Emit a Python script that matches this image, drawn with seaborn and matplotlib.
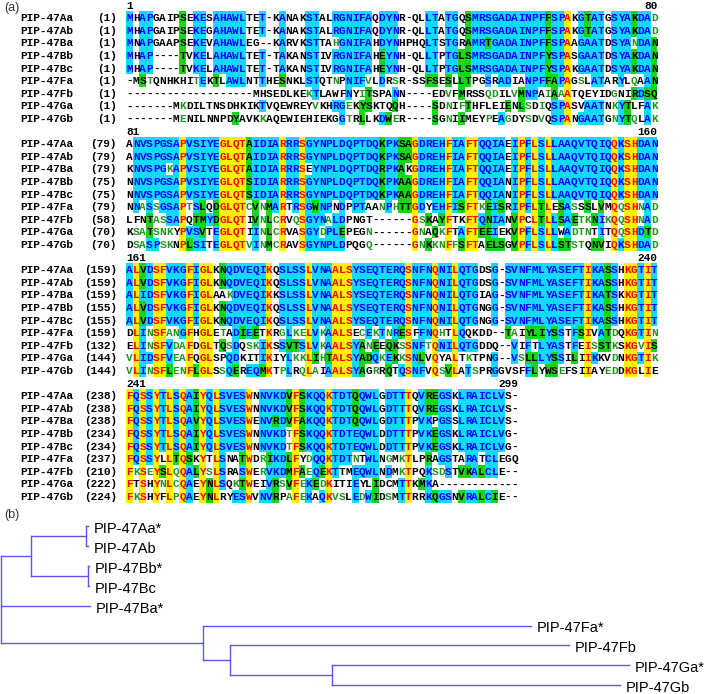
import numpy as np
import matplotlib
matplotlib.use("Agg")
import matplotlib.pyplot as plt
from matplotlib.colors import ListedColormap
from matplotlib import font_manager
import seaborn as sns
from collections import Counter

# ── (a) alignment data ───────────────────────────────────────────────────
seq_names = ["PIP-47Aa", "PIP-47Ab", "PIP-47Ba", "PIP-47Bb", "PIP-47Bc",
             "PIP-47Fa", "PIP-47Fb", "PIP-47Ga", "PIP-47Gb"]

seq_aa = ("MHAPGAIPSEKESAHAWLTET-KANAKSTALRGNIFAQDYNR-QLLTATGQSMRSGADAINPFFSPAKGTATGSYAKDAD"
          "ANVSPGSAPVSIYEGLQTAIDIARRRSGYNPLDQPTDQKPKSAGDREHFIAFTQQIAEIPFLSLLAAQVTQIQQKSHDAN"
          "ALVDSFVKGFIGLKNQDVEQIKQSLSSLVNAALSYSEQTERQSNFNQNILQTGDSG-SVNFMLYASEFTIKASSHKGTIT"
          "FQSSYTLSQAIYQLSVESWNNVKDVFSKQQKTDTQQWLGDTTTQVREGSKLRAICLVS-")
seq_ab = ("MHAPGAIPSEKEGAHAWLTET-KANAKSTALRGNIFAQDYNR-QLLTATGQSMRSGADAINPFFSPAKGTATGSYAKDAD"
          "ANVSPGSAPVSIYEGLQTAIDIARRRSGYNPLDQPTDQKPKSAGDREHFIAFTQQIAEIPFLSLLAAQVTQIQQKSHDAN"
          "ALVDSFVKGFIGLKNQDVEQIKQSLSSLVNAALSYSEQTERQSNFNQNILQTGDSG-SVNFMLYASEFTIKASSHKGTIT"
          "FQSSYTLSQAIYQLSVESWNNVKDVFSKQQKTDTQQWLGDTTTQVREGSKLRAICLVS-")
seq_ba = ("MNAPGAAPSEKEVAHAWLEG--KARVKSTTAHGNIFAHDYNHPHQLTSTGRAMRTGADAINPFFSPAAGAATDSYANDAN"
          "KNVSPGKAPVSIYEGLQTAIDIARRRSEYNPLDQPTDQRPKAKGDREHFIAFTQQIAEIPFLSLLAAQVTQIQQKSHDAN"
          "ALIDSFVKGFIGLAAKDVEQIKKSLSSLVNAALSYSEQTERQSNFNQNILQTGIAG-SVNFMLYASEFTIKATSKKGTIT"
          "FQSSYTLSQAVYQLSVESWENVRDVFAKQQKTDTQQWLGDTTTPVKPGSSLRAICLVS-")
seq_bb = ("MHAP----TVKELAHAWLTET-TAKANSTIVRGNIFAHEYNH-QLLTPTGLSMRSGADAINPFYSPASGAATDSYAKDAN"
          "NNVSPGSAPVSIYEGLQTSIDIARRRSGYNPLDQPTDQKPKAAGDREHFIAFTQQIANIPFLSLLAAQVTQIQQKSHDAN"
          "ALVDSFVKGFIGLKNQDVEQIKQSLSSLVNAALSYSEQTERQSNFNQNILQTGNGG-SVNFMLYASEFTIKASSHKGTIT"
          "FQSSYTLSQAIYQLSVESWNNVKDTFSKQQKTDTEQWLDDTTTPVKEGSKLRAICLVG-")
seq_bc = ("MHAP----TVKELAHAWLTET-TAKANSTIVRGNIFAHEYNH-QLLTPTGLSMRSGADAINPFYSPAKGAATDSYAKDAN"
          "NNVSPGSAPVSIYEGLQTSIDIARRRSGYNPLDQPTDQKPKAAGDREHFIAFTQQIANIPFLSLLAAQVTQIQQKSHDAN"
          "ALVDSFVKGFIGLKNQDVEQIKQSLSSLVNAALSYSEQTERQSNFNQNILQTGNGG-SVNFMLYASEFTIKASSHKGTIT"
          "FQSSYTLSQAIYQLSVESWNNVKDTFSKQQKTDTEQWLDDTTTPVKEGSKLRAICLVG-")
seq_fa = ("-MSTQNHKHITEKTLAWLNTTHESNKLSTQTNPNIFVLDRSR-SSFSESLLTPGSRADIANPFFAPAGSLATARYLQAAN"
          "NNASSGSAPTSLQDGLQTCVNMARTRSGWNPNDPPTAANPHTTGDYEHFISFTKEISRIPFLTLESASSSLVMQQSHNAD"
          "DLINSFANGFHGLETADIEETKRGLKELVKAALSECEKTNRESFFNQHTLQQKDD--TAIYLIYSSTFSIVATDQKGTIN"
          "FQSSYLLTQSKYTLSNATWDRIKDLFYDQQKTDTNTWLNGMKTLPRAGSTARATCLEGQ")
seq_fb = ("-------------------MHSEDLKEKTLAWFNYITSPANN----EDVFMRSSQDILVMNPAIAAATQEYIDGNIRDSQ"
          "LFNTASSAPQTMYDGLQTIVNLCRVQSGYNALDPNGT------GSKAYFTKFTQNIANVPCLTLLSAETKNIKQQSHNAD"
          "ELINSFVDAFDGLTQSDQSKIKSSVTSLVKAALSYANEEQKSSNFTQNILQTGDDQ--VIFTLYASTFEISSTKSKGVIS"
          "FKSEYSLQQALYSLSRASWERVKDMFAEQEKTTMEQWLNDMKTPQKSDSTVKALCLE--")
seq_ga = ("-------MKDILTNSDHKIKTVQEWREYVKHRGEKYSKTQQH----SDNIFTHFLEIENLSDIQSPASVAATNKYTLFAK"
          "KSATSNKYPVSVTEGLQTIINLCRVASGYDPLEPEGN------GNAQKFTAFTEEIEKVPFLSLLWADTNTITQQSHDTD"
          "VLIDSFVEAFQGLSPQDKITIKIYLKKLIHTALSYADQKEKKSNLVQYALTKTPNG--VSLLLYSSILIIKKVDNKGTIK"
          "FTSHYNLCQAEYNLSQKTWEIVRSVFEKEDKITIEYLIDCMTTKMKA------------")
seq_gb = ("-------MENILNNPDYAVKKAQEWIEHIEKGGTRLLKDWER----SGNIIMEYPEAGDYSDVQSPANGAATGNYTQLAK"
          "DSASPSKNPLSITEGLQTVINMCRAVSGYNPLDPQGQ------GNKKNFFSFTAELSGVPFLSLLSTSTQNVIQKSHDAD"
          "VLINSFLENFLGLSSQEREQMKTPLRQLAIAALSYAGRRQTQSNFVQSVLATSPRGGVSFFLYWSEFSIIAYEDDKGLIE"
          "FKSHYFLPQAEYNLRYESWVNVRPAFEKAQKVSLEDWIDSMTTRRKQGSNVRALCIE--")

seqs = [seq_aa, seq_ab, seq_ba, seq_bb, seq_bc, seq_fa, seq_fb, seq_ga, seq_gb]

# ── (b) tree data (distance from root) ───────────────────────────────────
tip_names = ["PIP-47Aa*", "PIP-47Ab", "PIP-47Bb*", "PIP-47Bc", "PIP-47Ba*",
             "PIP-47Fa*", "PIP-47Fb", "PIP-47Ga*", "PIP-47Gb"]
tip_depth = [87, 87, 88, 88, 89, 530, 568, 628, 619]
node_names = ["A", "B", "AB", "G", "FbG", "FG", "root"]
node_depth = [85, 87, 30, 331, 229, 202, 0]
node_children = [["PIP-47Aa*", "PIP-47Ab"], ["PIP-47Bb*", "PIP-47Bc"], ["A", "B"],
                 ["PIP-47Ga*", "PIP-47Gb"], ["PIP-47Fb", "G"], ["PIP-47Fa*", "FbG"],
                 ["AB", "PIP-47Ba*", "FG"]]

# ── AlignX-like colouring ────────────────────────────────────────────────
YELLOW, CYAN, GREEN = "#FFF200", "#12DAFF", "#16D616"
RED_T, BLUE_T, GREEN_T = "#FF0000", "#0000FF", "#1E951E"
TREE_C = "#5A5AF2"

STRONG = ["STA", "DE", "NQ", "QE", "KR", "ILVM", "LMF", "FYW", "HY"]
WEAK = ["CSA", "ATV", "SAG", "STNK", "STPA", "SGND", "SNDEQK", "NDEQHK",
        "NEQHRK", "FVLIM", "HFY"]
NONE, IDENT, CONS, SIM, WEAKSIM = 0, 1, 2, 3, 4


def grouped(a, b, groups):
    return any(a in g and b in g for g in groups)


def column_codes(col):
    n = len(col)
    out = [NONE] * n
    res = [c for c in col if c != "-"]
    if not res:
        return out
    if len(set(col)) == 1:
        return [IDENT] * n
    top, cnt = Counter(res).most_common(1)[0]
    half = n // 2 + 1
    if cnt >= half:
        for i, c in enumerate(col):
            if c == "-":
                continue
            if c == top:
                out[i] = CONS
            elif grouped(c, top, STRONG):
                out[i] = SIM
            elif grouped(c, top, WEAK):
                out[i] = WEAKSIM
        return out
    best, bcnt = None, 0
    for g in STRONG:
        k = sum(c in g for c in res)
        if k > bcnt:
            best, bcnt = g, k
    if bcnt >= half:
        cons = Counter([c for c in res if c in best]).most_common(1)[0][0]
        for i, c in enumerate(col):
            if c == "-":
                continue
            if c in best:
                out[i] = SIM
            elif grouped(c, cons, WEAK):
                out[i] = WEAKSIM
    return out


L = len(seqs[0])
codes = np.array([column_codes([s[j] for s in seqs]) for j in range(L)]).T

WIDTH = 80
n_blocks = int(np.ceil(L / WIDTH))
rows_per_block = len(seqs) + 1
bg = {NONE: 0, WEAKSIM: 0, IDENT: 1, CONS: 2, SIM: 3}
txt_col = {NONE: "black", WEAKSIM: GREEN_T, IDENT: RED_T, CONS: BLUE_T, SIM: "black"}

grid = np.zeros((n_blocks * rows_per_block, WIDTH))
for b in range(n_blocks):
    for i in range(len(seqs)):
        for j in range(WIDTH):
            c = b * WIDTH + j
            if c < L:
                grid[b * rows_per_block + 1 + i, j] = bg[codes[i, c]]

# ── figure ───────────────────────────────────────────────────────────────
W, H = 709, 694
fig = plt.figure(figsize=(W / 100, H / 100), dpi=100)

x0, cw = 126.2, 6.64          # alignment left edge / char width (px)
y0, rh = -1.3, 12.6           # top edge / row height (px)
nrows = grid.shape[0]
ax = fig.add_axes([x0 / W, 1 - (y0 + nrows * rh) / H, WIDTH * cw / W, nrows * rh / H])
sns.heatmap(grid, cmap=ListedColormap(["white", YELLOW, CYAN, GREEN]),
            vmin=-0.5, vmax=3.5, cbar=False, xticklabels=False,
            yticklabels=False, ax=ax)
ax.tick_params(length=0)

mono = dict(family="Liberation Mono", fontsize=8, weight="bold")
name_x = (20 - x0) / cw
num_x = (117 - x0) / cw
for b in range(n_blocks):
    r0 = b * rows_per_block
    start, end = b * WIDTH + 1, min((b + 1) * WIDTH, L)
    ax.text(0, r0 + 0.55, str(start), ha="left", va="center", clip_on=False, **mono)
    ax.text(end - b * WIDTH, r0 + 0.55, str(end), ha="right", va="center",
            clip_on=False, **mono)
    for i, s in enumerate(seqs):
        row = r0 + 1 + i + 0.55
        pos = len(s[:b * WIDTH].replace("-", "")) + 1
        ax.text(name_x, row, seq_names[i], ha="left", va="center", clip_on=False, **mono)
        ax.text(num_x, row, f"({pos})", ha="right", va="center", clip_on=False, **mono)
        for j in range(WIDTH):
            c = b * WIDTH + j
            if c >= L:
                break
            ax.text(j + 0.5, row, s[c], ha="center", va="center",
                    color=txt_col[codes[i, c]], **mono)

# ── tree panel ───────────────────────────────────────────────────────────
tax = fig.add_axes([0, 0, 1, 1])
tax.set_xlim(-1, W - 1)
tax.set_ylim(H, 0)
tax.axis("off")
tax.patch.set_alpha(0)

avail = {f.name for f in font_manager.fontManager.ttflist}
if "Liberation Sans Narrow" in avail:
    lab_font = dict(family="Liberation Sans Narrow", fontsize=12)
else:
    lab_font = dict(family="Liberation Sans", fontsize=10.5)

tax.text(3, 8, "(a)", ha="left", va="center", family="Liberation Sans",
         fontsize=9, color="#333333")
tax.text(3, 515, "(b)", ha="left", va="center", family="Liberation Sans",
         fontsize=9, color="#333333")

tip_y0, tip_dy = 526, 19.9
depth = dict(zip(tip_names, tip_depth))
ypos = {n: tip_y0 + k * tip_dy for k, n in enumerate(tip_names)}
depth.update(zip(node_names, node_depth))
for n, kids in zip(node_names, node_children):
    ypos[n] = np.mean([ypos[k] for k in kids])
for n, kids in zip(node_names, node_children):
    ys = [ypos[k] for k in kids]
    tax.plot([depth[n], depth[n]], [min(ys), max(ys)], color=TREE_C, lw=1.0)
    for k in kids:
        tax.plot([depth[n], depth[k]], [ypos[k], ypos[k]], color=TREE_C, lw=1.0)
for n in tip_names:
    tax.text(depth[n] + 6, ypos[n] + 3, n, ha="left", va="center", **lab_font)

fig.savefig("out.png", dpi=100)
